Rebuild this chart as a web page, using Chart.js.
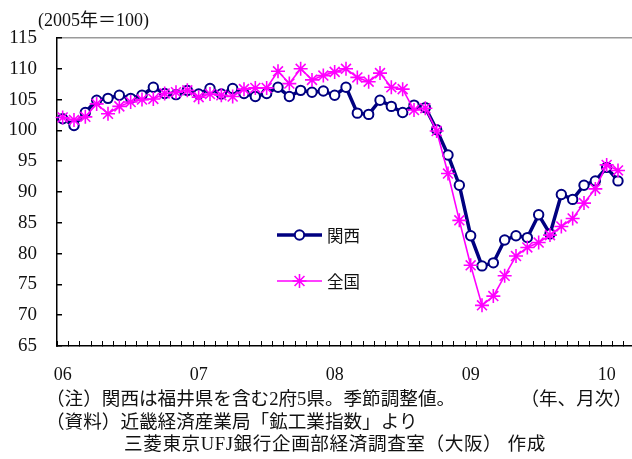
<!DOCTYPE html>
<html lang="ja">
<head>
<meta charset="utf-8">
<script src="https://cdn.jsdelivr.net/npm/chart.js@4/dist/chart.umd.min.js"></script>
<style>
  html, body { margin: 0; padding: 0; background: #fff; }
  #wrap { position: relative; width: 632px; height: 459px; overflow: hidden; }
  #chart { position: absolute; left: 0; top: 0; }
  .txt { position: absolute; white-space: nowrap; color: #111;
         font-family: "Liberation Serif", "Noto Sans CJK JP", serif; }
  .unit { left: 38px; top: 5px; font-size: 18px; }
  .note { font-size: 18.6px; line-height: 20px; }
</style>
</head>
<body>
<div id="wrap">
  <canvas id="chart" width="635" height="459"></canvas>
  <div class="txt unit">(2005年＝100)</div>
  <div class="txt note" style="left:46px; top:389px;">（注）関西は福井県を含む2府5県。季節調整値。</div>
  <div class="txt note" style="right:0px; top:389px;">（年、月次）</div>
  <div class="txt note" style="left:46px; top:412px;">（資料）近畿経済産業局「鉱工業指数」より</div>
  <div class="txt note" style="left:124px; top:434px; letter-spacing:0.6px;">三菱東京UFJ銀行企画部経済調査室（大阪） 作成</div>
</div>
<script>
// Year tick labels shown under each January
const yearLabels = ['06', '07', '08', '09', '10'];
const monthNames = ['1', '2', '3', '4', '5', '6', '7', '8', '9', '10', '11', '12'];

// Months Jan 2006 .. Mar 2010 (axis runs one month past the last observation)
const categories = [];
yearLabels.forEach(function (y) {
  monthNames.forEach(function (m) {
    if (categories.length < 51) categories.push(y + '/' + m);
  });
});

// Industrial production index (2005 = 100), seasonally adjusted, Jan 2006 .. Feb 2010
const kansai = [
  101.9, 100.8, 102.9, 104.9, 105.2, 105.7, 105.2, 105.7, 107.0, 106.0, 105.8, 106.5,
  105.9, 106.8, 105.9, 106.8, 106.0, 105.5, 106.0, 107.0, 105.5, 106.5, 106.2, 106.4,
  105.7, 107.0, 102.8, 102.6, 104.9, 103.9, 102.9, 104.1, 103.7, 100.1, 96.0, 91.1,
  82.9, 78.0, 78.5, 82.2, 82.9, 82.6, 86.3, 83.2, 89.6, 88.8, 91.1, 91.8,
  94.0, 91.8
];
const zenkoku = [
  102.1, 101.7, 102.2, 104.3, 102.7, 103.9, 104.6, 105.0, 105.1, 106.0, 106.2, 106.5,
  105.4, 105.9, 105.7, 105.5, 106.7, 106.9, 106.9, 109.6, 107.6, 110.0, 108.2, 108.9,
  109.5, 110.0, 108.6, 107.9, 109.3, 107.0, 106.7, 103.3, 103.6, 99.9, 93.0, 85.4,
  78.1, 71.6, 73.1, 76.4, 79.6, 81.0, 81.8, 83.0, 84.4, 85.7, 88.2, 90.5,
  94.4, 93.5
];
const seriesNames = ['関西', '全国'];

const NAVY = '#000080';
const MAGENTA = '#ff00ff';
const serifX = { family: '"Liberation Serif", "Times New Roman", serif', size: 18 };
const serifY = { family: '"Liberation Serif", "Times New Roman", serif', size: 19 };

// Legend drawn inside the plot, each entry: sample line + marker + name
const insideLegend = {
  id: 'insideLegend',
  afterDatasetsDraw(chart) {
    const ctx = chart.ctx;
    const a = chart.chartArea;
    const x0 = a.left + 220;
    const x1 = a.left + 265;
    const rows = [197, 243];
    chart.data.datasets.forEach(function (ds, i) {
      const y = a.top + rows[i];
      ctx.save();
      ctx.strokeStyle = ds.borderColor;
      ctx.lineWidth = ds.borderWidth;
      ctx.beginPath();
      ctx.moveTo(x0, y);
      ctx.lineTo(x1, y);
      ctx.stroke();
      ctx.fillStyle = ds.pointBackgroundColor;
      ctx.strokeStyle = ds.pointBorderColor;
      ctx.lineWidth = ds.pointBorderWidth;
      Chart.helpers.drawPoint(ctx, {
        pointStyle: ds.pointStyle, radius: ds.pointRadius,
        borderWidth: ds.pointBorderWidth, rotation: 0
      }, (x0 + x1) / 2, y);
      ctx.fillStyle = '#111';
      ctx.font = '16.5px "Noto Sans CJK JP", sans-serif';
      ctx.textBaseline = 'middle';
      ctx.textAlign = 'left';
      ctx.fillText(ds.label, x1 + 5, y + 1);
      ctx.restore();
    });
  }
};

new Chart(document.getElementById('chart'), {
  type: 'line',
  data: {
    labels: categories,
    datasets: [
      {
        label: seriesNames[0], data: kansai, order: 1,
        borderColor: NAVY, borderWidth: 3.5, tension: 0,
        pointStyle: 'circle', pointRadius: 4.7, pointBorderWidth: 2,
        pointBackgroundColor: '#ffffff', pointBorderColor: NAVY
      },
      {
        label: seriesNames[1], data: zenkoku, order: 0,
        borderColor: MAGENTA, borderWidth: 1.6, tension: 0,
        pointStyle: 'star', pointRadius: 7, pointBorderWidth: 1.6,
        pointBackgroundColor: MAGENTA, pointBorderColor: MAGENTA
      }
    ]
  },
  options: {
    responsive: false,
    animation: false,
    layout: { autoPadding: false, padding: { left: 0, right: 0, top: 38, bottom: 73 } },
    plugins: { legend: { display: false }, tooltip: { enabled: false } },
    scales: {
      x: {
        type: 'category',
        offset: true,
        grid: { offset: true, drawOnChartArea: false, drawTicks: true,
                tickLength: -5, tickColor: '#000', lineWidth: 1 },
        border: { color: '#000', width: 1.5 },
        ticks: {
          autoSkip: false, maxRotation: 0, minRotation: 0, padding: 23,
          color: '#111', font: serifX,
          callback: function (v, i) { return i % 12 === 0 ? yearLabels[i / 12] : ''; }
        },
        afterFit: function (s) { s.height = 40; s.paddingLeft = 0; s.paddingRight = 0; }
      },
      y: {
        min: 65, max: 115,
        grid: {
          drawOnChartArea: true, drawTicks: true, tickLength: -5, tickColor: '#000',
          lineWidth: 1.5,
          color: function (c) { return c.tick && c.tick.value === 115 ? '#9a9a9a' : 'rgba(0,0,0,0)'; }
        },
        border: { color: '#000', width: 1.5 },
        ticks: { stepSize: 5, padding: 25, color: '#111', font: serifY },
        afterFit: function (s) { s.width = 57; }
      }
    }
  },
  plugins: [insideLegend]
});
</script>
</body>
</html>
